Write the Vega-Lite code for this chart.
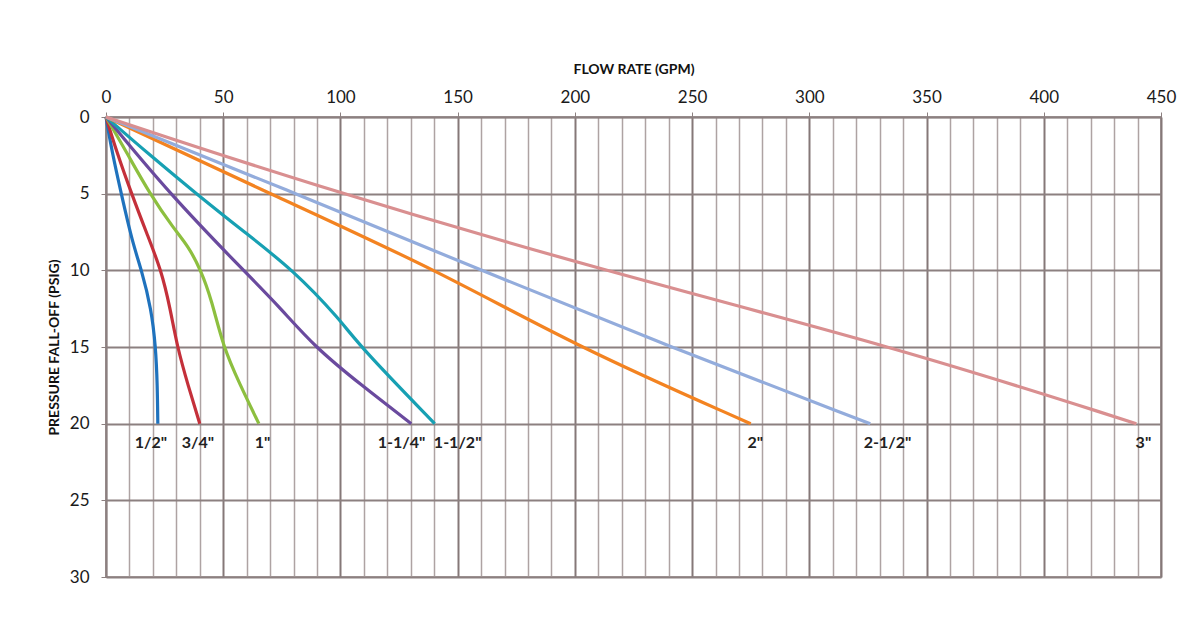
{
  "$schema": "https://vega.github.io/schema/vega-lite/v6.json",
  "width": 1055,
  "height": 460,
  "autosize": {"type": "none"},
  "padding": {"left": 106, "top": 117, "right": 32, "bottom": 48},
  "background": "white",
  "config": {
    "font": "Lato",
    "view": {"stroke": "#8c8080", "strokeWidth": 1.5},
    "axis": {"labelFont": "Lato", "titleFont": "Lato", "labelColor": "#1a1a1a", "titleColor": "#111"}
  },
  "layer": [
    {
      "data": {"values": [
        {"size": "1/2\"", "psi": 0, "gpm": 0},
        {"size": "1/2\"", "psi": 2.3, "gpm": 2.6},
        {"size": "1/2\"", "psi": 5, "gpm": 6.5},
        {"size": "1/2\"", "psi": 8.2, "gpm": 11.3},
        {"size": "1/2\"", "psi": 10, "gpm": 15.2},
        {"size": "1/2\"", "psi": 12.5, "gpm": 19.3},
        {"size": "1/2\"", "psi": 15, "gpm": 21.2},
        {"size": "1/2\"", "psi": 17.5, "gpm": 21.9},
        {"size": "1/2\"", "psi": 20, "gpm": 22.1},
        {"size": "3/4\"", "psi": 0, "gpm": 0},
        {"size": "3/4\"", "psi": 2.3, "gpm": 4.6},
        {"size": "3/4\"", "psi": 5, "gpm": 10.9},
        {"size": "3/4\"", "psi": 7.6, "gpm": 17.4},
        {"size": "3/4\"", "psi": 10, "gpm": 23.6},
        {"size": "3/4\"", "psi": 12.5, "gpm": 27.4},
        {"size": "3/4\"", "psi": 15, "gpm": 30.4},
        {"size": "3/4\"", "psi": 17.5, "gpm": 35},
        {"size": "3/4\"", "psi": 20, "gpm": 40},
        {"size": "1\"", "psi": 0, "gpm": 0},
        {"size": "1\"", "psi": 2.3, "gpm": 8.8},
        {"size": "1\"", "psi": 5, "gpm": 18.6},
        {"size": "1\"", "psi": 7.3, "gpm": 29},
        {"size": "1\"", "psi": 8.4, "gpm": 35},
        {"size": "1\"", "psi": 10, "gpm": 40.5},
        {"size": "1\"", "psi": 11.9, "gpm": 45},
        {"size": "1\"", "psi": 15, "gpm": 50},
        {"size": "1\"", "psi": 17.4, "gpm": 57},
        {"size": "1\"", "psi": 20, "gpm": 65.2},
        {"size": "1-1/4\"", "psi": 0, "gpm": 0},
        {"size": "1-1/4\"", "psi": 5, "gpm": 27},
        {"size": "1-1/4\"", "psi": 10, "gpm": 58.6},
        {"size": "1-1/4\"", "psi": 12.3, "gpm": 73.5},
        {"size": "1-1/4\"", "psi": 15, "gpm": 89},
        {"size": "1-1/4\"", "psi": 17.5, "gpm": 109},
        {"size": "1-1/4\"", "psi": 20, "gpm": 130.2},
        {"size": "1-1/2\"", "psi": 0, "gpm": 0},
        {"size": "1-1/2\"", "psi": 2.5, "gpm": 18.8},
        {"size": "1-1/2\"", "psi": 5, "gpm": 38.5},
        {"size": "1-1/2\"", "psi": 7.5, "gpm": 59},
        {"size": "1-1/2\"", "psi": 10, "gpm": 80},
        {"size": "1-1/2\"", "psi": 13.2, "gpm": 99.8},
        {"size": "1-1/2\"", "psi": 15, "gpm": 108.5},
        {"size": "1-1/2\"", "psi": 20, "gpm": 140.2},
        {"size": "2\"", "psi": 0, "gpm": 0},
        {"size": "2\"", "psi": 5.3, "gpm": 74.2},
        {"size": "2\"", "psi": 10, "gpm": 141.5},
        {"size": "2\"", "psi": 15, "gpm": 201},
        {"size": "2\"", "psi": 20, "gpm": 275},
        {"size": "2-1/2\"", "psi": 0, "gpm": 0},
        {"size": "2-1/2\"", "psi": 5.1, "gpm": 82.8},
        {"size": "2-1/2\"", "psi": 10, "gpm": 160},
        {"size": "2-1/2\"", "psi": 15, "gpm": 240.6},
        {"size": "2-1/2\"", "psi": 20, "gpm": 326},
        {"size": "3\"", "psi": 0, "gpm": 0},
        {"size": "3\"", "psi": 4.2, "gpm": 82.8},
        {"size": "3\"", "psi": 10, "gpm": 211},
        {"size": "3\"", "psi": 15, "gpm": 337},
        {"size": "3\"", "psi": 20, "gpm": 439.5}
      ]},
      "mark": {"type": "line", "strokeWidth": 3.2, "interpolate": "basis", "clip": false},
      "encoding": {
        "x": {
          "field": "gpm", "type": "quantitative",
          "scale": {"domain": [0, 450], "nice": false, "zero": false},
          "axis": {
            "orient": "top",
            "title": "FLOW RATE (GPM)",
            "titleFontSize": 14,
            "titleFontWeight": "bold",
            "titlePadding": 12,
            "tickCount": 100,
            "values": [0,10,20,30,40,50,60,70,80,90,100,110,120,130,140,150,160,170,180,190,200,210,220,230,240,250,260,270,280,290,300,310,320,330,340,350,360,370,380,390,400,410,420,430,440,450],
            "labelExpr": "datum.value % 50 === 0 ? datum.label : ''",
            "labelFontSize": 17,
            "labelPadding": 6,
            "labelFlush": false,
            "labelOverlap": false,
            "domain": true,
            "domainColor": "#8c8080",
            "domainWidth": 1.5,
            "grid": true,
            "gridColor": {"condition": {"test": "datum.value % 50 === 0", "value": "#857878"}, "value": "#aea3a3"},
            "gridWidth": {"condition": {"test": "datum.value % 50 === 0", "value": 2}, "value": 1.5},
            "gridOpacity": 1,
            "ticks": true,
            "tickSize": 5,
            "tickColor": "#8c8080",
            "tickOpacity": {"condition": {"test": "datum.value % 50 === 0", "value": 1}, "value": 0}
          }
        },
        "y": {
          "field": "psi", "type": "quantitative",
          "scale": {"domain": [0, 30], "reverse": true, "nice": false},
          "axis": {
            "title": "PRESSURE FALL-OFF (PSIG)",
            "titleFontSize": 14,
            "titleFontWeight": "bold",
            "titlePadding": 8,
            "tickCount": 10,
            "values": [0, 5, 10, 15, 20, 25, 30],
            "labelFontSize": 17,
            "labelPadding": 12,
            "domainColor": "#8c8080",
            "domainWidth": 1.5,
            "grid": true,
            "gridColor": "#8c8080",
            "gridWidth": 1.8,
            "gridOpacity": 1,
            "tickSize": 5,
            "tickColor": "#8c8080"
          }
        },
        "color": {
          "field": "size", "type": "nominal", "legend": null,
          "scale": {
            "domain": ["1/2\"", "3/4\"", "1\"", "1-1/4\"", "1-1/2\"", "2\"", "2-1/2\"", "3\""],
            "range": ["#1f72bd", "#c4303a", "#8dbf3f", "#6a4a9e", "#17a0b3", "#f38321", "#93acdc", "#d98f90"]
          }
        },
        "order": {"field": "psi", "type": "quantitative"}
      }
    },
    {
      "data": {"values": [
        {"label": "1/2\"", "gpm": 19.2, "psi": 20},
        {"label": "3/4\"", "gpm": 39.2, "psi": 20},
        {"label": "1\"", "gpm": 66.8, "psi": 20},
        {"label": "1-1/4\"", "gpm": 126.1, "psi": 20},
        {"label": "1-1/2\"", "gpm": 150, "psi": 20},
        {"label": "2\"", "gpm": 276.9, "psi": 20},
        {"label": "2-1/2\"", "gpm": 333.4, "psi": 20},
        {"label": "3\"", "gpm": 442.5, "psi": 20}
      ]},
      "mark": {"type": "text", "font": "Lato", "fontSize": 16, "fontWeight": "bold", "color": "#222", "baseline": "middle", "align": "center", "dy": 19},
      "encoding": {
        "x": {"field": "gpm", "type": "quantitative"},
        "y": {"field": "psi", "type": "quantitative"},
        "text": {"field": "label", "type": "nominal"}
      }
    }
  ]
}
